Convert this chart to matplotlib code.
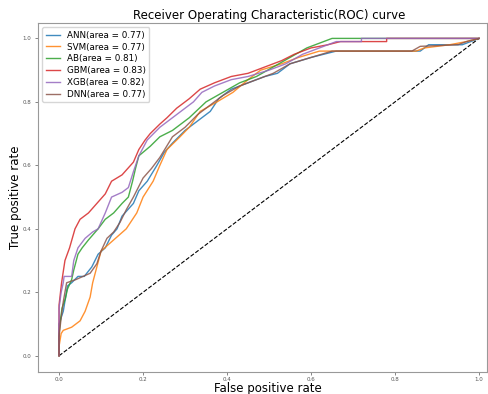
import matplotlib
matplotlib.use("Agg")
import matplotlib.pyplot as plt

ann_fpr = [0, 0, 0.01, 0.015, 0.02, 0.03, 0.045, 0.06, 0.078, 0.093, 0.11, 0.125, 0.138, 0.15, 0.177, 0.19, 0.21, 0.233, 0.25, 0.27, 0.30, 0.33, 0.36, 0.38, 0.41, 0.45, 0.49, 0.52, 0.55, 0.60, 0.66, 0.86, 0.88, 0.96, 1.0]
ann_tpr = [0, 0.10, 0.14, 0.18, 0.22, 0.23, 0.25, 0.25, 0.28, 0.32, 0.34, 0.38, 0.40, 0.44, 0.48, 0.52, 0.55, 0.60, 0.64, 0.67, 0.71, 0.74, 0.77, 0.81, 0.84, 0.86, 0.88, 0.89, 0.92, 0.94, 0.96, 0.96, 0.98, 0.98, 1.0]

svm_fpr = [0, 0, 0.005, 0.01, 0.03, 0.05, 0.062, 0.074, 0.08, 0.09, 0.10, 0.13, 0.16, 0.185, 0.20, 0.224, 0.24, 0.257, 0.288, 0.31, 0.336, 0.376, 0.414, 0.45, 0.48, 0.53, 0.57, 0.62, 0.85, 0.87, 0.93, 0.97, 1.0]
svm_tpr = [0, 0.03, 0.07, 0.08, 0.09, 0.11, 0.14, 0.185, 0.23, 0.28, 0.33, 0.365, 0.40, 0.45, 0.50, 0.55, 0.60, 0.65, 0.69, 0.72, 0.77, 0.80, 0.83, 0.87, 0.90, 0.92, 0.94, 0.96, 0.96, 0.97, 0.98, 0.99, 1.0]

ab_fpr = [0, 0, 0.004, 0.007, 0.015, 0.02, 0.03, 0.035, 0.045, 0.055, 0.07, 0.093, 0.11, 0.13, 0.15, 0.165, 0.175, 0.182, 0.19, 0.217, 0.24, 0.27, 0.31, 0.35, 0.39, 0.43, 0.47, 0.51, 0.55, 0.59, 0.63, 0.65, 1.0]
ab_tpr = [0, 0.07, 0.12, 0.15, 0.18, 0.21, 0.24, 0.27, 0.32, 0.34, 0.365, 0.40, 0.43, 0.45, 0.48, 0.50, 0.55, 0.59, 0.63, 0.66, 0.69, 0.71, 0.75, 0.80, 0.83, 0.86, 0.88, 0.91, 0.94, 0.97, 0.99, 1.0, 1.0]

gbm_fpr = [0, 0, 0.006, 0.014, 0.025, 0.038, 0.05, 0.07, 0.09, 0.11, 0.125, 0.15, 0.177, 0.19, 0.205, 0.217, 0.24, 0.257, 0.28, 0.31, 0.336, 0.37, 0.41, 0.45, 0.49, 0.53, 0.56, 0.60, 0.64, 0.67, 0.78, 0.78, 1.0]
gbm_tpr = [0, 0.16, 0.23, 0.30, 0.34, 0.40, 0.43, 0.45, 0.48, 0.51, 0.55, 0.57, 0.61, 0.65, 0.68, 0.70, 0.73, 0.75, 0.78, 0.81, 0.84, 0.86, 0.88, 0.89, 0.91, 0.93, 0.95, 0.97, 0.98, 0.99, 0.99, 1.0, 1.0]

xgb_fpr = [0, 0, 0.005, 0.01, 0.012, 0.03, 0.035, 0.045, 0.062, 0.08, 0.093, 0.11, 0.125, 0.15, 0.165, 0.177, 0.19, 0.21, 0.24, 0.27, 0.295, 0.32, 0.34, 0.37, 0.41, 0.45, 0.50, 0.54, 0.58, 0.62, 0.66, 0.72, 0.72, 1.0]
xgb_tpr = [0, 0.15, 0.20, 0.23, 0.25, 0.25, 0.30, 0.34, 0.37, 0.39, 0.40, 0.45, 0.50, 0.515, 0.53, 0.58, 0.63, 0.68, 0.72, 0.75, 0.775, 0.80, 0.83, 0.85, 0.87, 0.88, 0.90, 0.92, 0.95, 0.97, 0.99, 0.99, 1.0, 1.0]

dnn_fpr = [0, 0, 0.005, 0.01, 0.018, 0.04, 0.074, 0.09, 0.10, 0.114, 0.13, 0.145, 0.16, 0.177, 0.20, 0.22, 0.24, 0.27, 0.30, 0.33, 0.36, 0.39, 0.43, 0.47, 0.51, 0.55, 0.60, 0.65, 0.84, 0.86, 0.95, 0.97, 1.0]
dnn_tpr = [0, 0.06, 0.12, 0.17, 0.23, 0.24, 0.26, 0.29, 0.33, 0.37, 0.39, 0.42, 0.46, 0.50, 0.56, 0.59, 0.625, 0.69, 0.72, 0.76, 0.79, 0.82, 0.85, 0.87, 0.89, 0.92, 0.94, 0.96, 0.96, 0.975, 0.98, 0.99, 1.0]

labels = ["ANN(area = 0.77)", "SVM(area = 0.77)", "AB(area = 0.81)",
          "GBM(area = 0.83)", "XGB(area = 0.82)", "DNN(area = 0.77)"]
colors = ["#1f77b4", "#ff7f0e", "#2ca02c", "#d62728", "#9467bd", "#8c564b"]

curves = [(ann_fpr, ann_tpr), (svm_fpr, svm_tpr), (ab_fpr, ab_tpr),
          (gbm_fpr, gbm_tpr), (xgb_fpr, xgb_tpr), (dnn_fpr, dnn_tpr)]

fig = plt.figure(figsize=(4.88, 3.94), dpi=100)
ax = fig.add_axes([0.078, 0.056, 0.920, 0.886])

ax.plot([0, 1], [0, 1], "k--", lw=0.8)
for (fx, ty), lab, c in zip(curves, labels, colors):
    ax.plot(fx, ty, color=c, lw=1.0, alpha=0.85, label=lab)

ax.set_xlim(-0.05, 1.019)
ax.set_ylim(-0.051, 1.049)
ax.set_xticks([0, 0.2, 0.4, 0.6, 0.8, 1.0])
ax.set_yticks([0, 0.2, 0.4, 0.6, 0.8, 1.0])
ax.tick_params(labelsize=4, length=2, width=0.5, colors="#555555")
ax.tick_params(axis="x", pad=1.5)
ax.tick_params(axis="y", pad=3)
for s in ax.spines.values():
    s.set_color("#999999")
    s.set_linewidth(0.8)

ax.set_xlabel("False positive rate", fontsize=8.5, labelpad=0)
ax.set_ylabel("True positive rate", fontsize=8.5, labelpad=0)
ax.set_title("Receiver Operating Characteristic(ROC) curve", fontsize=8.5, pad=3)
ax.title.set_x(0.514)
ax.xaxis.label.set_x(0.511)
ax.legend(loc="upper left", fontsize=6.3, handlelength=1.6, labelspacing=0.32,
          borderpad=0.4, framealpha=0.8)

fig.savefig("out.png", dpi=100)
